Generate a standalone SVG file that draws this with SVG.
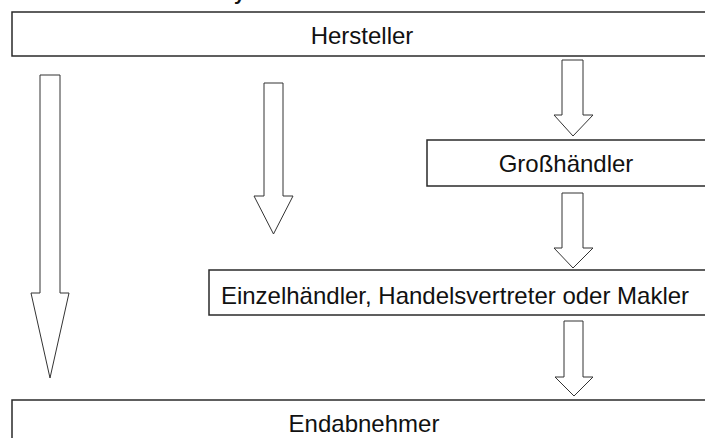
<svg xmlns="http://www.w3.org/2000/svg" width="705" height="438" viewBox="0 0 705 438">
<style>
.box{fill:#fff;stroke:#2a2a2a;stroke-width:1.5}
.arr{fill:#fff;stroke:#333;stroke-width:1}
.lbl{font-family:"Liberation Sans",Arial,sans-serif;font-size:24px;fill:#111;text-anchor:middle}
</style>
<rect width="705" height="438" fill="#fff"/>
<text x="234" y="0" font-family="Liberation Sans, Arial, sans-serif" font-weight="bold" font-size="20" fill="#111">y</text>
<g id="hersteller"><rect class="box" x="12" y="12" width="710" height="44"/><text class="lbl" x="362" y="44">Hersteller</text></g>
<g id="grosshaendler"><rect class="box" x="427" y="140" width="300" height="46"/><text class="lbl" x="566" y="172">Großhändler</text></g>
<g id="einzelhaendler"><rect class="box" x="209" y="270" width="520" height="45"/><text class="lbl" x="455" y="304">Einzelhändler, Handelsvertreter oder Makler</text></g>
<g id="endabnehmer"><rect class="box" x="12" y="400" width="710" height="60"/><text class="lbl" x="364" y="432">Endabnehmer</text></g>
<g id="connectors">
<polygon class="arr" points="40,75 60,75 60,293 69,293 50,378 31,293 40,293"/>
<polygon class="arr" points="264,83 283,83 283,196 293,196 273.5,234 254,196 264,196"/>
<polygon class="arr" points="562,60 583,60 583,115 593,115 573,136 554,115 562,115"/>
<polygon class="arr" points="562,193 583,193 583,248 593,248 573,268 554,248 562,248"/>
<polygon class="arr" points="564,321 583,321 583,377 593,377 574,396 555,377 564,377"/>
</g>
</svg>
